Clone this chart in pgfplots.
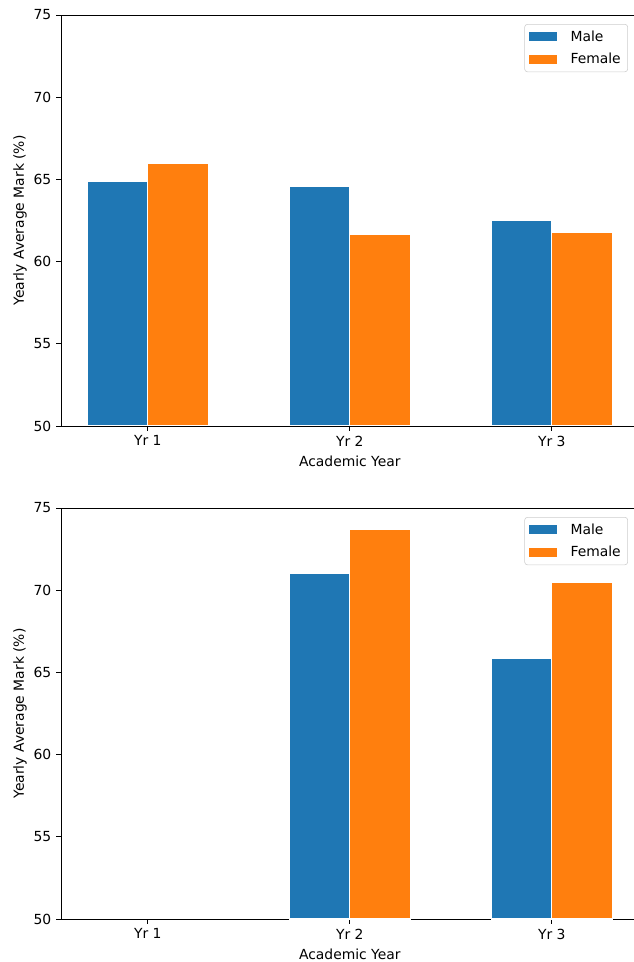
\documentclass[border=0pt]{standalone}
\usepackage{pgfplots}
\pgfplotsset{compat=1.18}
\usepackage{fontspec}
\setmainfont{DejaVu Sans}
\definecolor{mblue}{HTML}{1F77B4}
\definecolor{morange}{HTML}{FF7F0E}
\pgfplotsset{
  myax/.style={
    scale only axis,
    width=415.9pt, height=295.92pt,
    xmin=-0.43, xmax=2.43, ymin=50, ymax=75,
    xtick={0,1,2}, xticklabels={Yr 1,Yr 2,Yr 3},
    ytick={50,55,60,65,70,75},
    tick align=outside, tick pos=left,
    major tick length=3.5pt,
    tick style={black, line width=0.6pt},
    axis line style={black, line width=0.6pt},
    xlabel={Academic Year}, ylabel={Yearly Average Mark (\%)},
    xlabel style={yshift=0pt},
    ylabel style={yshift=-2pt},
    ybar, bar width=0.3,
    /pgf/number format/assume math mode=true,
    font=\fontsize{10}{12}\selectfont,
    tick label style={font=\fontsize{10}{12}\selectfont},
    label style={font=\fontsize{10}{12}\selectfont},
    legend cell align=left,
    legend style={at={(axis description cs:0.9815,0.978)}, anchor=north east,
      draw=black!20, rounded corners=2pt, font=\fontsize{10}{12}\selectfont,
      inner xsep=3pt, inner ysep=2.5pt, row sep=3pt},
  },
  mbar/.style={fill=mblue, draw=white, line width=0.8pt},
  fbar/.style={fill=morange, draw=white, line width=0.8pt},
  mleg/.style={legend image code/.code={\fill[mblue, draw=none, sharp corners] (0pt,-3.3pt) rectangle (20pt,3.3pt); \path[draw=none, fill=none] (0pt,0pt) -- (28pt,0pt);}},
  fleg/.style={legend image code/.code={\fill[morange, draw=none, sharp corners] (0pt,-3.3pt) rectangle (20pt,3.3pt); \path[draw=none, fill=none] (0pt,0pt) -- (28pt,0pt);}},
}
\begin{document}
\begin{tikzpicture}
\useasboundingbox (0,0) rectangle (456.48pt,692.64pt);
\begin{axis}[myax, at={(43.92pt,385.92pt)}, anchor=south west]
\addplot[mbar, bar shift=-0.15, forget plot] coordinates {(0,64.9) (1,64.6) (2,62.5)};
\addplot[fbar, bar shift=0.15, forget plot] coordinates {(0,66.0) (1,61.65) (2,61.8)};
\addlegendimage{mleg}
\addlegendentry{Male}
\addlegendimage{fleg}
\addlegendentry{Female}
\end{axis}
\begin{axis}[myax, at={(43.92pt,30.96pt)}, anchor=south west]
\addplot[mbar, bar shift=-0.15, forget plot] coordinates {(1,71.0) (2,65.85)};
\addplot[fbar, bar shift=0.15, forget plot] coordinates {(1,73.7) (2,70.45)};
\addlegendimage{mleg}
\addlegendentry{Male}
\addlegendimage{fleg}
\addlegendentry{Female}
\end{axis}
\end{tikzpicture}
\end{document}
